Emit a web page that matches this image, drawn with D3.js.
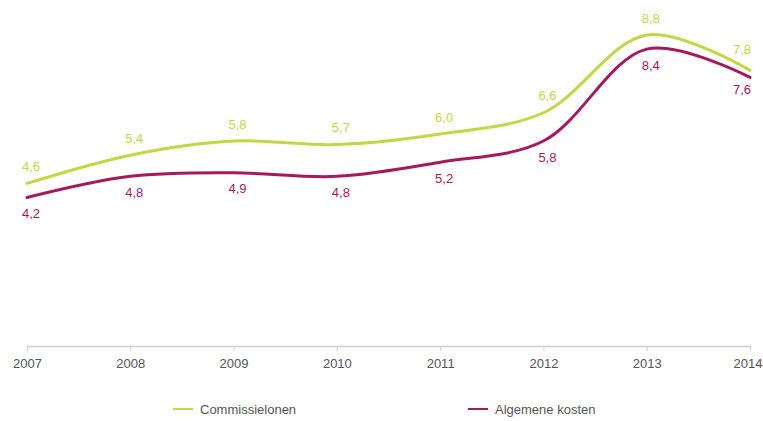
<!DOCTYPE html>
<html>
<head>
<meta charset="utf-8">
<script src="https://cdn.jsdelivr.net/npm/d3@7/dist/d3.min.js"></script>
<style>
  html, body { margin: 0; padding: 0; background: #fff; }
  svg { display: block; font-family: "Liberation Sans", Arial, sans-serif; }
</style>
</head>
<body>
<svg id="chart" width="763" height="421"></svg>
<script>
const years = ["2007", "2008", "2009", "2010", "2011", "2012", "2013", "2014"];
const commissielonen = [4.6, 5.4, 5.8, 5.7, 6.0, 6.6, 8.8, 7.8];
const algemeneKosten = [4.2, 4.8, 4.9, 4.8, 5.2, 5.8, 8.4, 7.6];
const seriesNames = ["Commissielonen", "Algemene kosten"];
const seriesColors = ["#c2d743", "#a5195f"];

const svg = d3.select("#chart");

const x = d3.scalePoint().domain(years).range([27, 750]);
const y = d3.scaleLinear().domain([0, 8.8]).range([346, 35]);

// x axis: light rule with small downward ticks
const axis = svg.append("g")
  .attr("transform", "translate(0,346)")
  .call(d3.axisBottom(x).tickSize(5).tickPadding(8).tickSizeOuter(0));
axis.select(".domain").attr("stroke", "#cfcfcf").attr("stroke-width", 1.5);
axis.selectAll(".tick line").attr("stroke", "#cfcfcf");
axis.selectAll(".tick text")
  .attr("fill", "#555")
  .attr("font-size", 13)
  .attr("font-family", "Liberation Sans, Arial, sans-serif");
// keep the last year label inside the right edge
axis.selectAll(".tick text")
  .filter(d => d === years[years.length - 1])
  .attr("text-anchor", "end")
  .attr("dx", 12);

const line = d3.line()
  .x((d, i) => x(years[i]))
  .y(d => y(d))
  .curve(d3.curveCatmullRom.alpha(0.5));

const series = [
  { name: seriesNames[0], values: commissielonen, color: seriesColors[0], dy: -17 },
  { name: seriesNames[1], values: algemeneKosten, color: seriesColors[1], dy: 16 }
];

series.forEach(s => {
  svg.append("path")
    .datum(s.values)
    .attr("fill", "none")
    .attr("stroke", s.color)
    .attr("stroke-width", 3)
    .attr("stroke-linecap", "round")
    .attr("d", line);

  const last = s.values.length - 1;
  svg.append("g").selectAll("text")
    .data(s.values)
    .join("text")
    .attr("x", (d, i) => x(years[i]) + (i === last ? -8 : 4))
    .attr("y", (d, i) => y(d) + s.dy + (i === last ? -4 : 0))
    .attr("dy", "0.35em")
    .attr("text-anchor", "middle")
    .attr("font-size", 13)
    .attr("fill", s.color)
    .text(d => d.toFixed(1).replace(".", ","));
});

// legend
const legendX = [173, 468];
const legend = svg.append("g");
series.forEach((s, i) => {
  const g = legend.append("g").attr("transform", `translate(${legendX[i]},409)`);
  g.append("line")
    .attr("x1", 0).attr("x2", 20)
    .attr("stroke", s.color).attr("stroke-width", 2);
  g.append("text")
    .attr("x", 27).attr("dy", "0.35em")
    .attr("font-size", 13)
    .attr("fill", "#555")
    .text(s.name);
});
</script>
</body>
</html>
